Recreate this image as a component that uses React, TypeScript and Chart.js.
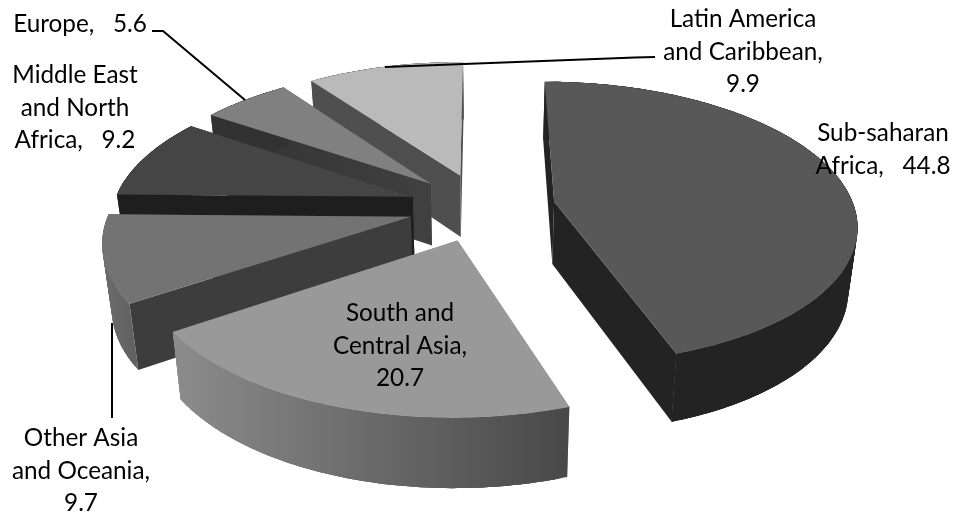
import React, { useEffect, useRef } from "react";
import { Chart, registerables } from "chart.js";

Chart.register(...registerables);

// Share of the total per region, clockwise from twelve o'clock.
const regions = [
  "Sub-saharan Africa",
  "South and Central Asia",
  "Other Asia and Oceania",
  "Middle East and North Africa",
  "Europe",
  "Latin America and Caribbean",
];
const shares = [44.8, 20.7, 9.7, 9.2, 5.6, 9.9];

// Slab colours per slice.
const topColors = ["#585858", "#999999", "#737373", "#454545", "#808080", "#bababa"];
const edgeColors = [
  ["#232323", "#232323"],
  ["#8c8c8c", "#8c8c8c"],
  ["#3d3d3d", "#3d3d3d"],
  ["#1e1e1e", "#1e1e1e"],
  ["#323232", "#404040"],
  ["#4f4f4f", "#4f4f4f"],
];
const rimColors = [
  ["#232323", "#232323"],
  ["#8c8c8c", "#484848"],
  ["#6c6c6c", "#606060"],
  ["#1e1e1e", "#1e1e1e"],
  ["#323232", "#323232"],
  ["#4f4f4f", "#4f4f4f"],
];

// Painting order, far slices first.
const paintOrder = [5, 4, 3, 2, 0, 1];

// Label text: name lines, and whether the value shares the last name line.
const labelLines = [
  ["Sub-saharan", "Africa,"],
  ["South and", "Central Asia,"],
  ["Other Asia", "and Oceania,"],
  ["Middle East", "and North", "Africa,"],
  ["Europe,"],
  ["Latin America", "and Caribbean,"],
];
const valueInline = [true, false, false, true, true, false];

// Centre of each label's first line.
const labelAnchors = [
  [883, 133],
  [400, 313],
  [81, 438],
  [75, 75],
  [80, 24],
  [743, 19],
];
const leaderLines = [
  [[152, 31], [163, 31], [245, 100]],
  [[385, 67], [635, 57.5], [655, 57]],
  [[112, 323], [112, 418]],
];

// Ground-plane projection of the unit pie.
const view = { cx: 482, cy: 207, a: 300, b: 139.4, k: 0.15, explode: 0.245 };

type Pt = [number, number];

const project = (u: number, v: number): Pt => {
  const w = 1 - view.k * v;
  return [view.cx + (view.a * u) / w, view.cy + (view.b * v) / w];
};
const dropped = ([x, y]: Pt): Pt => [view.cx + (x - view.cx) * 0.975, y * 1.037 + 55];

const polygon = (ctx: CanvasRenderingContext2D, pts: Pt[], color: string | CanvasGradient) => {
  ctx.beginPath();
  pts.forEach((p, i) => (i ? ctx.lineTo(p[0], p[1]) : ctx.moveTo(p[0], p[1])));
  ctx.closePath();
  ctx.fillStyle = color;
  ctx.fill();
};

const sweep = (ctx: CanvasRenderingContext2D, pts: Pt[], colors: string[]) => {
  const xs = pts.map((p) => p[0]);
  const g = ctx.createLinearGradient(Math.min(...xs), 0, Math.max(...xs), 0);
  g.addColorStop(0, colors[0]);
  g.addColorStop(1, colors[1]);
  return g;
};

// Extruded, perspective slices built from the angles the pie controller computed.
const slabPlugin = {
  id: "slab",
  beforeDatasetDraw(chart: any) {
    const ctx: CanvasRenderingContext2D = chart.ctx;
    const arcs = chart.getDatasetMeta(0).data;
    ctx.save();
    for (const i of paintOrder) {
      const start = arcs[i].startAngle + Math.PI / 2;
      const end = arcs[i].endAngle + Math.PI / 2;
      const mid = (start + end) / 2;
      const ou = view.explode * Math.sin(mid);
      const ov = -view.explode * Math.cos(mid);
      const apex = project(ou, ov);
      const rim: Pt[] = [];
      const steps = Math.ceil(((end - start) * 180) / Math.PI);
      for (let s = 0; s <= steps; s++) {
        const t = start + ((end - start) * s) / steps;
        rim.push(project(ou + Math.sin(t), ov - Math.cos(t)));
      }
      const first = rim[0];
      const last = rim[rim.length - 1];
      const startWall: Pt[] = [apex, first, dropped(first), dropped(apex)];
      const endWall: Pt[] = [apex, last, dropped(last), dropped(apex)];
      polygon(ctx, endWall, sweep(ctx, endWall, edgeColors[i]));
      polygon(ctx, startWall, sweep(ctx, startWall, edgeColors[i]));
      // Each strip of the curved wall overlaps the next so no seams show through.
      const shade = sweep(ctx, [...rim, ...rim.map(dropped)], rimColors[i]);
      for (let s = 0; s < steps; s++) {
        const to = Math.min(s + 3, steps);
        const strip = rim.slice(s, to + 1);
        polygon(ctx, [...strip, ...strip.map(dropped).reverse()], shade);
      }
      polygon(ctx, [apex, ...rim], topColors[i]);
    }
    ctx.restore();
    return false;
  },
};

const annotationPlugin = {
  id: "annotations",
  afterDraw(chart: any) {
    const ctx: CanvasRenderingContext2D = chart.ctx;
    ctx.save();
    ctx.strokeStyle = "#000000";
    ctx.lineWidth = 2;
    for (const line of leaderLines) {
      ctx.beginPath();
      line.forEach((p, i) => (i ? ctx.lineTo(p[0], p[1]) : ctx.moveTo(p[0], p[1])));
      ctx.stroke();
    }
    ctx.fillStyle = "#000000";
    ctx.font = "24.3px Lato";
    ctx.textAlign = "center";
    ctx.textBaseline = "middle";
    labelLines.forEach((names, i) => {
      const value = shares[i].toFixed(1);
      const lines = valueInline[i]
        ? [...names.slice(0, -1), `${names[names.length - 1]}   ${value}`]
        : [...names, value];
      lines.forEach((text, n) => {
        ctx.fillText(text, labelAnchors[i][0], labelAnchors[i][1] + n * 32.7);
      });
    });
    ctx.restore();
  },
};

export default function App() {
  const ref = useRef<HTMLCanvasElement>(null);
  useEffect(() => {
    const chart = new Chart(ref.current!, {
      type: "pie",
      data: { labels: regions, datasets: [{ data: shares }] },
      options: {
        responsive: false,
        animation: false,
        rotation: 0,
        plugins: { legend: { display: false }, tooltip: { enabled: false } },
      },
      plugins: [slabPlugin, annotationPlugin],
    } as any);
    return () => chart.destroy();
  }, []);
  return (
    <div style={{ position: "fixed", left: 0, top: 0, width: 954, height: 516, background: "#fff" }}>
      <canvas ref={ref} width={954} height={516} style={{ display: "block" }} />
    </div>
  );
}
